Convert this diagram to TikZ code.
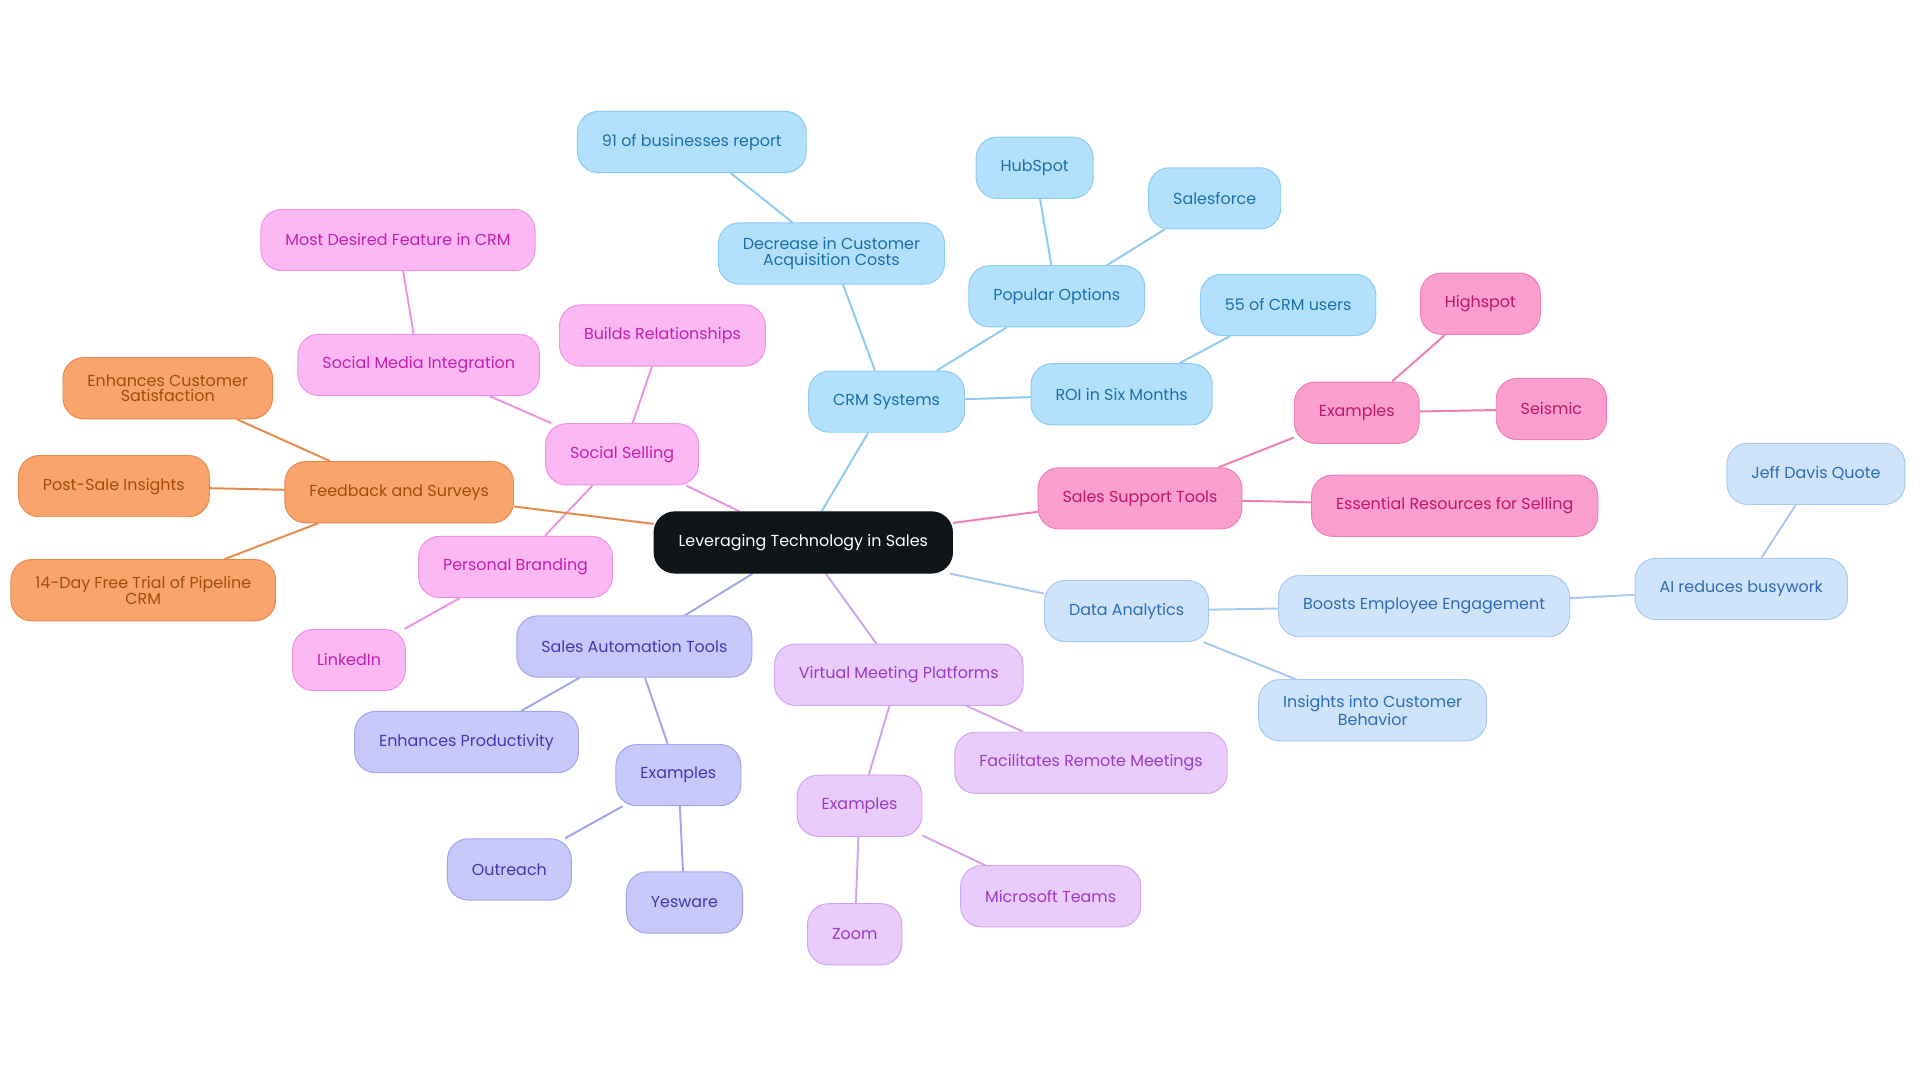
\documentclass[tikz,border=0pt]{standalone}
\usepackage{fontspec}
\setmainfont{Poppins}
\usetikzlibrary{backgrounds}
\definecolor{crmF}{HTML}{B3E0FD}\definecolor{crmD}{HTML}{8CCBF5}\definecolor{crmT}{HTML}{1A6FA8}
\definecolor{supF}{HTML}{FB9FCF}\definecolor{supD}{HTML}{F07DB8}\definecolor{supT}{HTML}{C0166B}
\definecolor{anaF}{HTML}{CFE3FB}\definecolor{anaD}{HTML}{A8C9F2}\definecolor{anaT}{HTML}{2C6BB5}
\definecolor{vmpF}{HTML}{E9CCFB}\definecolor{vmpD}{HTML}{D0A5F0}\definecolor{vmpT}{HTML}{9A3AC7}
\definecolor{autF}{HTML}{C8C8FB}\definecolor{autD}{HTML}{A3A3EE}\definecolor{autT}{HTML}{3B3BB0}
\definecolor{socF}{HTML}{FBB8F3}\definecolor{socD}{HTML}{EE92E2}\definecolor{socT}{HTML}{C41FB0}
\definecolor{fbkF}{HTML}{F9A46D}\definecolor{fbkD}{HTML}{E8884B}\definecolor{fbkT}{HTML}{A64A0C}
\definecolor{hubF}{HTML}{0F1419}
\begin{document}
\begin{tikzpicture}[
		x=1pt, y=-1pt,
		box/.style={rounded corners=17pt, minimum height=50pt, inner xsep=20pt, align=center, font=\fontsize{13}{13}\selectfont, line width=0.8pt},
		crm/.style={box, fill=crmF, draw=crmD, text=crmT},
		sup/.style={box, fill=supF, draw=supD, text=supT},
		ana/.style={box, fill=anaF, draw=anaD, text=anaT},
		vmp/.style={box, fill=vmpF, draw=vmpD, text=vmpT},
		aut/.style={box, fill=autF, draw=autD, text=autT},
		soc/.style={box, fill=socF, draw=socD, text=socT},
		fbk/.style={box, fill=fbkF, draw=fbkD, text=fbkT},
		link/.style={line width=1.6pt},
	]
		\useasboundingbox (0,0) rectangle (1568,884);
		\node (hub) [box, fill=hubF, draw=hubF, text=white] at (656,443) {Leveraging Technology in Sales};
		% CRM
		\node (crm) [crm] at (724,328) {CRM Systems};
		\node (cac) [crm] at (679,207) {Decrease in Customer\\Acquisition Costs};
		\node (biz) [crm] at (565,116) {91 of businesses report};
		\node (pop) [crm] at (863,242) {Popular Options};
		\node (hubspot) [crm] at (845,137) {HubSpot};
		\node (sforce) [crm] at (992,162) {Salesforce};
		\node (roi) [crm] at (916,322) {ROI in Six Months};
		\node (users) [crm] at (1052,249) {55 of CRM users};
		% support
		\node (sup) [sup] at (931,407) {Sales Support Tools};
		\node (supex) [sup] at (1108,337) {Examples};
		\node (high) [sup] at (1209,248) {Highspot};
		\node (seis) [sup] at (1267,334) {Seismic};
		\node (ess) [sup] at (1188,413) {Essential Resources for Selling};
		% analytics
		\node (ana) [ana] at (920,499) {Data Analytics};
		\node (boost) [ana] at (1163,495) {Boosts Employee Engagement};
		\node (ai) [ana] at (1422,481) {AI reduces busywork};
		\node (jeff) [ana] at (1483,387) {Jeff Davis Quote};
		\node (insight) [ana] at (1121,580) {Insights into Customer\\Behavior};
		% meetings
		\node (vmp) [vmp] at (734,551) {Virtual Meeting Platforms};
		\node (remote) [vmp] at (891,623) {Facilitates Remote Meetings};
		\node (vmpex) [vmp] at (702,658) {Examples};
		\node (teams) [vmp] at (858,732) {Microsoft Teams};
		\node (zoom) [vmp] at (698,763) {Zoom};
		% automation
		\node (aut) [aut] at (518,528) {Sales Automation Tools};
		\node (prod) [aut] at (381,606) {Enhances Productivity};
		\node (autex) [aut] at (554,633) {Examples};
		\node (outr) [aut] at (416,710) {Outreach};
		\node (yes) [aut] at (559,737) {Yesware};
		% social
		\node (soc) [soc] at (508,371) {Social Selling};
		\node (rel) [soc] at (541,274) {Builds Relationships};
		\node (smi) [soc] at (342,298) {Social Media Integration};
		\node (feat) [soc] at (325,196) {Most Desired Feature in CRM};
		\node (brand) [soc] at (421,463) {Personal Branding};
		\node (lin) [soc] at (285,539) {LinkedIn};
		% feedback
		\node (fbk) [fbk] at (326,402) {Feedback and Surveys};
		\node (sat) [fbk] at (137,317) {Enhances Customer\\Satisfaction};
		\node (post) [fbk] at (93,397) {Post-Sale Insights};
		\node (trial) [fbk] at (117,482) {14-Day Free Trial of Pipeline\\CRM};
		\begin{scope}[on background layer]
			\draw[link, crmD] (hub) -- (crm) (crm) -- (cac) (cac) -- (biz) (crm) -- (pop) (pop) -- (hubspot) (pop) -- (sforce) (crm) -- (roi) (roi) -- (users);
			\draw[link, supD] (hub) -- (sup) (sup) -- (supex) (supex) -- (high) (supex) -- (seis) (sup) -- (ess);
			\draw[link, anaD] (hub) -- (ana) (ana) -- (boost) (boost) -- (ai) (ai) -- (jeff) (ana) -- (insight);
			\draw[link, vmpD] (hub) -- (vmp) (vmp) -- (remote) (vmp) -- (vmpex) (vmpex) -- (teams) (vmpex) -- (zoom);
			\draw[link, autD] (hub) -- (aut) (aut) -- (prod) (aut) -- (autex) (autex) -- (outr) (autex) -- (yes);
			\draw[link, socD] (hub) -- (soc) (soc) -- (rel) (soc) -- (smi) (smi) -- (feat) (soc) -- (brand) (brand) -- (lin);
			\draw[link, fbkD] (hub) -- (fbk) (fbk) -- (sat) (fbk) -- (post) (fbk) -- (trial);
		\end{scope}
	\end{tikzpicture}
\end{document}
